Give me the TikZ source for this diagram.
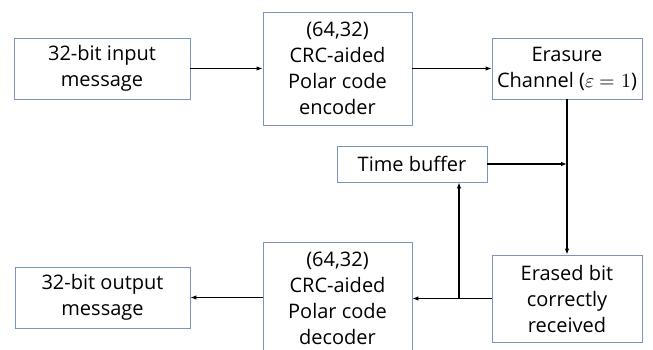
\documentclass[tikz,border=0pt]{standalone}
\usepackage{unicode-math}
\setmainfont{Open Sans}
\setmathfont{Latin Modern Math}
\usetikzlibrary{arrows.meta}
\begin{document}
\begin{tikzpicture}[x=1pt, y=-1pt,
    blockbox/.style={draw=myedge, line width=0.9pt, fill=white, align=center,
        inner sep=0pt, font=\fontsize{20}{26}\selectfont},
    flow/.style={-{Latex[length=6pt,width=4.5pt]}, line width=1.1pt}]
    \definecolor{myedge}{RGB}{120,150,190}

    \useasboundingbox (0,0) rectangle (653,350);

    \node[blockbox, minimum width=176pt, minimum height=61pt] (input) at (102,68.5) {32-bit input\\message};
    \node[blockbox, minimum width=149pt, minimum height=113pt] (enc) at (337.5,68.5) {(64,32)\\CRC-aided\\Polar code\\encoder};
    \node[blockbox, minimum width=150pt, minimum height=61pt] (chan) at (567,68.5) {Erasure\\Channel ($\varepsilon=1$)};
    \node[blockbox, minimum width=150pt, minimum height=36pt] (buffer) at (412,164) {Time buffer};
    \node[blockbox, minimum width=150pt, minimum height=87pt] (erased) at (567,298.5) {Erased bit\\correctly\\received};
    \node[blockbox, minimum width=149pt, minimum height=113pt] (dec) at (337.5,298.5) {(64,32)\\CRC-aided\\Polar code\\decoder};
    \node[blockbox, minimum width=175pt, minimum height=61pt] (output) at (102.5,297.5) {32-bit output\\message};

    \coordinate (join) at (chan.south |- buffer.east);
    \coordinate (split) at (459,0 |- erased.west);

    \draw[flow] (input) -- (enc);
    \draw[flow] (enc.east |- chan.west) -- (chan.west);
    \draw[flow] (chan.south) -- (erased.north);
    \draw[flow] (buffer.east) -- (join);
    \draw[flow] (erased.west) -- (dec.east |- erased.west);
    \draw[flow] (split) -- (split |- buffer.south);
    \draw[flow] (dec.west |- output.east) -- (output.east);
\end{tikzpicture}
\end{document}
